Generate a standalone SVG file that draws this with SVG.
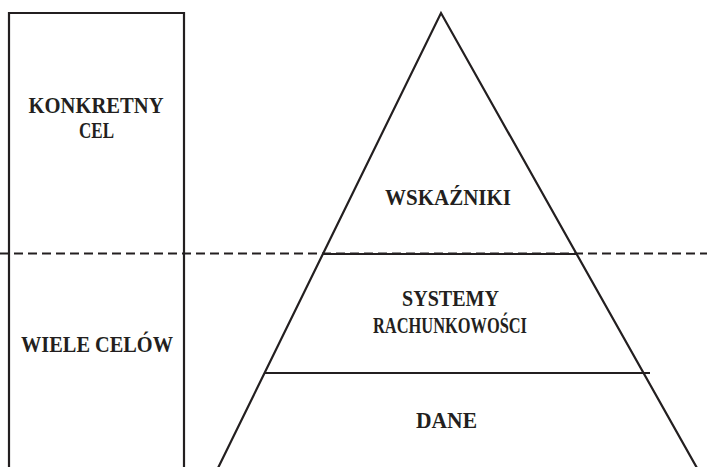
<svg xmlns="http://www.w3.org/2000/svg" width="707" height="467" viewBox="0 0 707 467">
<style>
.ln{stroke:#231f20;fill:none;stroke-width:2.2}
.t{font-family:"Liberation Serif","Times New Roman",serif;font-weight:bold;font-size:23px;fill:#231f20;text-anchor:middle}
</style>
<rect width="707" height="467" fill="#fff"/>
<g id="connectors">
<line class="ln" x1="0" y1="253.5" x2="707" y2="253.5" stroke-dasharray="9,5" stroke-width="2"/>
</g>
<g id="goals-box">
<polyline class="ln" points="9,470 9,13 184,13 184,470"/>
</g>
<g id="konkretny-cel">
<text class="t" x="96" y="113" textLength="135" lengthAdjust="spacingAndGlyphs">KONKRETNY</text>
<text class="t" x="96.5" y="138" textLength="35" lengthAdjust="spacingAndGlyphs">CEL</text>
</g>
<g id="wiele-celow">
<text class="t" x="97" y="351.5" textLength="152" lengthAdjust="spacingAndGlyphs">WIELE  CELÓW</text>
</g>
<g id="pyramid">
<polyline class="ln" points="218,468 441,13 697,468"/>
<line class="ln" x1="323" y1="254" x2="577" y2="254" stroke-width="2.6"/>
<line class="ln" x1="264" y1="373" x2="650" y2="373" stroke-width="2.6"/>
</g>
<g id="wskazniki">
<text class="t" x="448" y="205" textLength="126" lengthAdjust="spacingAndGlyphs">WSKAŹNIKI</text>
</g>
<g id="systemy">
<text class="t" x="450.5" y="306" textLength="97" lengthAdjust="spacingAndGlyphs">SYSTEMY</text>
<text class="t" x="450" y="333" textLength="154" lengthAdjust="spacingAndGlyphs">RACHUNKOWOŚCI</text>
</g>
<g id="dane">
<text class="t" x="446.5" y="428" textLength="61" lengthAdjust="spacingAndGlyphs">DANE</text>
</g>
</svg>
